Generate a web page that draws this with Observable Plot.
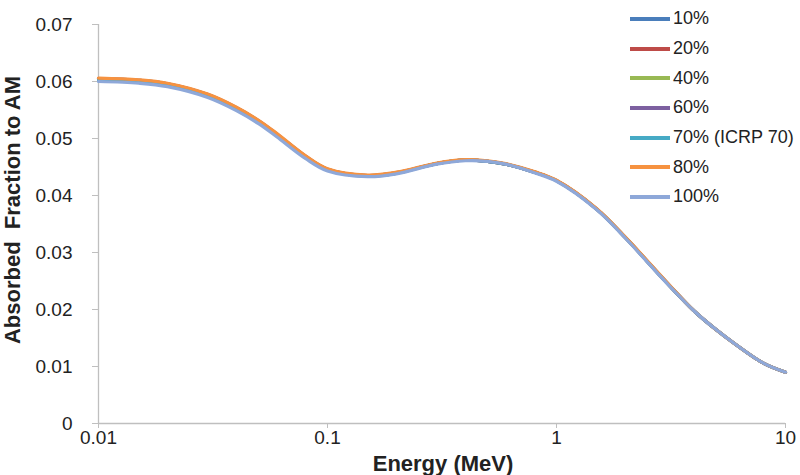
<!DOCTYPE html>
<html>
<head>
<meta charset="utf-8">
<script src="https://cdn.jsdelivr.net/npm/d3@7"></script>
<script src="https://cdn.jsdelivr.net/npm/@observablehq/plot@0.6"></script>
<style>
  html, body { margin: 0; padding: 0; background: #fff; }
  #wrap { position: relative; width: 800px; height: 475px; font-family: "Liberation Sans", Arial, sans-serif; }
  #legend { position: absolute; left: 630px; top: 4px; }
  .row { display: flex; align-items: center; height: 29.7px; font-size: 18px; color: #222; white-space: nowrap; }
  .sw { width: 40px; height: 4px; margin-right: 3px; }
</style>
</head>
<body>
<div id="wrap"><div id="legend"></div></div>
<script>
const energy = [0.01,0.015,0.02,0.03,0.04,0.05,0.06,0.08,0.1,0.15,0.2,0.3,0.4,0.5,0.6,0.8,1,1.5,2,3,4,5,6,8,10];
const seriesNames = ["10%","20%","40%","60%","70% (ICRP 70)","80%","100%"];
const seriesColors = ["#4A7EBB","#BE4B48","#98B954","#7D60A0","#46AAC5","#F69240","#8EA8D9"];
const af10  = [0.0605,0.0602,0.0596,0.0577,0.0554,0.0531,0.0508,0.0469,0.0446,0.0435,0.0440,0.0456,0.0462,0.0460,0.0455,0.0441,0.0426,0.0376,0.0326,0.0249,0.0197,0.0164,0.0140,0.0106,0.0090];
const af20  = [0.0605,0.0602,0.0596,0.0577,0.0554,0.0531,0.0508,0.0469,0.0446,0.0435,0.0440,0.0456,0.0462,0.0460,0.0455,0.0441,0.0426,0.0376,0.0326,0.0249,0.0197,0.0164,0.0140,0.0106,0.0090];
const af40  = [0.0604,0.0601,0.0595,0.0576,0.0553,0.0530,0.0507,0.0468,0.0445,0.0434,0.0439,0.0456,0.0462,0.0460,0.0455,0.0441,0.0426,0.0376,0.0326,0.0249,0.0197,0.0164,0.0140,0.0106,0.0090];
const af60  = [0.0604,0.0601,0.0595,0.0576,0.0553,0.0530,0.0507,0.0468,0.0445,0.0434,0.0439,0.0456,0.0462,0.0460,0.0455,0.0441,0.0426,0.0376,0.0326,0.0249,0.0197,0.0164,0.0140,0.0106,0.0090];
const af70  = [0.0603,0.0600,0.0594,0.0575,0.0552,0.0529,0.0506,0.0467,0.0445,0.0434,0.0439,0.0456,0.0462,0.0460,0.0455,0.0441,0.0426,0.0376,0.0326,0.0249,0.0197,0.0164,0.0140,0.0106,0.0090];
const af80  = [0.0606,0.0603,0.0597,0.0578,0.0555,0.0532,0.0509,0.0470,0.0447,0.0436,0.0441,0.0457,0.0463,0.0461,0.0456,0.0442,0.0427,0.0377,0.0327,0.0250,0.0197,0.0164,0.0140,0.0106,0.0090];
const af100 = [0.0600,0.0597,0.0591,0.0572,0.0549,0.0526,0.0503,0.0465,0.0443,0.0433,0.0438,0.0455,0.0461,0.0460,0.0455,0.0440,0.0425,0.0375,0.0325,0.0248,0.0197,0.0164,0.0140,0.0106,0.0090];
const yTicks = [0,0.01,0.02,0.03,0.04,0.05,0.06,0.07];
const yTickLabels = ["0","0.01","0.02","0.03","0.04","0.05","0.06","0.07"];
const xTicks = [0.01,0.1,1,10];
const xTickLabels = ["0.01","0.1","1","10"];

const allSeries = [af10,af20,af40,af60,af70,af80,af100];
const rows = [];
allSeries.forEach((arr, si) => arr.forEach((v, i) => rows.push({series: seriesNames[si], energy: energy[i], af: v})));

const lookup = (ticks, labels) => d => {
  const i = ticks.findIndex(t => Math.abs(t - d) < 1e-9 * Math.max(1, Math.abs(t)) || Math.abs(t - d) < 1e-12);
  return i >= 0 ? labels[i] : "";
};

const axisColor = "#BFBFBF";
const chart = Plot.plot({
  width: 800, height: 475,
  marginLeft: 98, marginRight: 15, marginTop: 24, marginBottom: 52,
  style: {fontFamily: "'Liberation Sans', Arial, sans-serif", fontSize: "19px", color: "#222", background: "#fff"},
  x: {type: "log", domain: [0.01, 10]},
  y: {domain: [0, 0.07]},
  color: {domain: seriesNames, range: seriesColors},
  marks: [
    Plot.ruleX([0.01], {stroke: axisColor, strokeWidth: 1.3}),
    Plot.ruleY([0], {stroke: axisColor, strokeWidth: 1.3}),
    Plot.axisY({ticks: yTicks, tickFormat: lookup(yTicks, yTickLabels), tickSize: 6, tickPadding: 20, stroke: axisColor, label: null, fontSize: 19}),
    Plot.axisX({ticks: xTicks, tickFormat: lookup(xTicks, xTickLabels), tickSize: 5, tickPadding: 2, stroke: axisColor, label: null, fontSize: 19}),
    Plot.line(rows, {x: "energy", y: "af", z: "series", stroke: "series", strokeWidth: 3.2, curve: "catmull-rom"})
  ]
});
const svg = d3.select(chart);
svg.append("text")
  .attr("transform", "translate(20,210) rotate(-90)")
  .attr("text-anchor", "middle")
  .attr("font-weight", "bold").attr("font-size", 22)
  .attr("font-family", "'Liberation Sans Narrow','Liberation Sans',Arial,sans-serif")
  .attr("fill", "#222")
  .text("Absorbed  Fraction to AM");
svg.append("text")
  .attr("x", 443).attr("y", 471)
  .attr("text-anchor", "middle")
  .attr("font-weight", "bold").attr("font-size", 22)
  .attr("font-family", "'Liberation Sans Narrow','Liberation Sans',Arial,sans-serif")
  .attr("fill", "#222")
  .text("Energy (MeV)");
const wrap = document.getElementById("wrap");
wrap.insertBefore(chart, wrap.firstChild);
const legend = d3.select("#legend");
seriesNames.forEach((n, i) => {
  const r = legend.append("div").attr("class", "row");
  r.append("div").attr("class", "sw").style("background", seriesColors[i]);
  r.append("span").text(n);
});
</script>
</body>
</html>
